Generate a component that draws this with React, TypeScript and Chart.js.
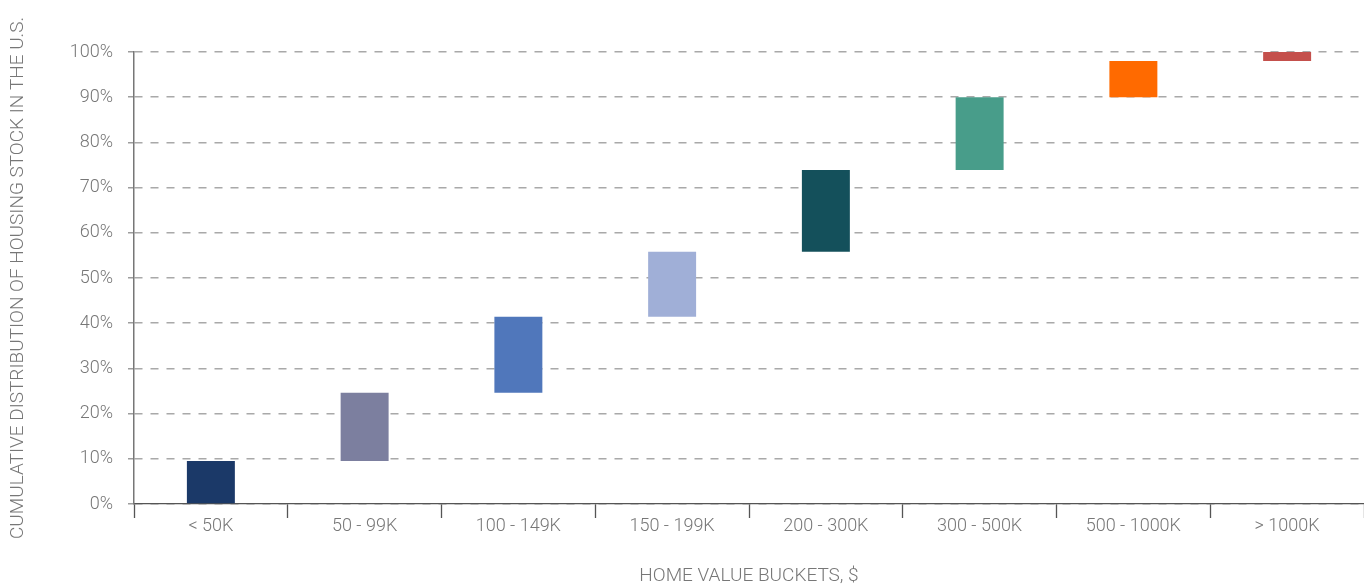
import React, { useEffect, useRef } from "react";
import { Chart, registerables } from "chart.js";

Chart.register(...registerables);

const categories = ["< 50K", "50 - 99K", "100 - 149K", "150 - 199K", "200 - 300K", "300 - 500K", "500 - 1000K", "> 1000K"];
const cumulativeShare = [9.5, 24.6, 41.4, 55.8, 73.9, 90, 98, 100];
const barColors = ["#1b3968", "#7c7f9f", "#5077bb", "#a0afd7", "#14505b", "#489d8a", "#ff6a00", "#c4504c"];
const yTickValues = [0, 10, 20, 30, 40, 50, 60, 70, 80, 90, 100];

const FONT = "Roboto, 'Liberation Sans', sans-serif";

export default function App() {
  const ref = useRef<HTMLCanvasElement>(null);
  useEffect(() => {
    document.body.style.margin = "0";
    if (!ref.current) return;
    const data = cumulativeShare.map((v, i) => [i === 0 ? 0 : cumulativeShare[i - 1], v]);
    const chart = new Chart(ref.current, {
      type: "bar",
      data: {
        labels: categories,
        datasets: [
          {
            data: data as any,
            backgroundColor: barColors,
            borderWidth: 0,
            categoryPercentage: 1,
            barPercentage: 0.312,
          },
        ],
      },
      options: {
        animation: false,
        responsive: false,
        maintainAspectRatio: false,
        layout: { padding: { top: 52, right: 0, left: 0, bottom: 0 } },
        plugins: { legend: { display: false }, tooltip: { enabled: false } },
        scales: {
          x: {
            offset: true,
            grid: {
              offset: true,
              drawOnChartArea: false,
              drawTicks: true,
              tickLength: 14,
              tickColor: "#555",
              tickWidth: 1.3,
              color: "#555",
            },
            border: { display: true, color: "#555", width: 1.3 },
            ticks: {
              color: "#777",
              padding: -2,
              font: { family: FONT, size: 18, weight: 300 as any },
            },
            title: {
              display: true,
              text: "HOME VALUE BUCKETS, $",
              color: "#777",
              font: { family: FONT, size: 19, weight: 300 as any },
              padding: { top: 0, bottom: -1 },
            },
            afterFit: (scale: any) => {
              scale.height = 83;
            },
          },
          y: {
            min: 0,
            max: 100,
            z: 1,
            afterBuildTicks: (scale: any) => {
              scale.ticks = yTickValues.map((v) => ({ value: v }));
            },
            grid: {
              color: "rgba(140,140,140,0.75)",
              lineWidth: 1.5,
              tickLength: 6,
              tickColor: "rgba(140,140,140,0.85)",
              tickBorderDash: [],
            },
            border: { display: true, color: "#777", width: 1.5, dash: [8, 8] },
            ticks: {
              color: "#777",
              padding: 15,
              font: { family: FONT, size: 18, weight: 300 as any },
              callback: (v: any) => v + "%",
            },
            title: {
              display: true,
              text: "CUMULATIVE DISTRIBUTION OF HOUSING STOCK IN THE U.S.",
              color: "#777",
              font: { family: FONT, size: 19, weight: 300 as any },
              padding: { top: 7, bottom: 0 },
            },
            afterFit: (scale: any) => {
              scale.width = 134;
            },
          },
        },
      },
    });
    return () => chart.destroy();
  }, []);
  return (
    <div style={{ width: 1364, height: 587, position: "relative" }}>
      <canvas ref={ref} width={1364} height={587} style={{ width: 1364, height: 587, display: "block" }} />
    </div>
  );
}
